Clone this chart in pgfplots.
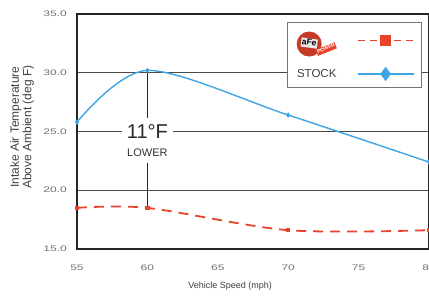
\documentclass[border=0pt]{standalone}
\usepackage{pgfplots}
\pgfplotsset{compat=1.18}
\usepackage{fontspec}
\setmainfont{Liberation Sans}
\newfontfamily\tickfont[FakeStretch=1.5]{Liberation Sans}
\definecolor{stockblue}{HTML}{3FA4E6}
\definecolor{afered}{HTML}{E8442C}
\definecolor{gridc}{HTML}{4A4A4A}
\definecolor{tickc}{HTML}{707070}
\newcommand{\afelogo}{\tikz[baseline=-0.6ex]{%
  \fill[afered!85!black] (0,0) circle (12.5pt);
  \node[anchor=center, rotate=22, fill=afered, text=white, inner sep=0.7pt, font=\bfseries\fontsize{5}{5}\selectfont] at (17pt,-5pt) {POWER};
  \node[anchor=center, rotate=-8, fill=white!92!black, text=black, inner sep=0.8pt, font=\bfseries\fontsize{8.5}{8.5}\selectfont] at (0pt,1pt) {aFe};}}
\begin{document}
\begin{tikzpicture}
\begin{axis}[
  scale only axis, width=352pt, height=235pt,
  xmin=55, xmax=80, ymin=15, ymax=35,
  xtick={55,60,65,70,75,80}, ytick={15,20,25,30,35},
  ymajorgrids, grid style={gridc, line width=0.9pt},
  axis line style={black!85, line width=1.4pt},
  major tick length=0pt,
  /pgf/number format/assume math mode=true,
  tick label style={font=\tickfont\fontsize{8}{8}\selectfont, text=tickc},
  yticklabel style={/pgf/number format/fixed, /pgf/number format/fixed zerofill, /pgf/number format/precision=1, inner sep=0pt, anchor=east, xshift=-10pt},
  xticklabel style={inner sep=0pt, anchor=center, yshift=-19pt},
  xlabel={Vehicle Speed (mph)},
  xlabel style={at={([yshift=-37pt]rel axis cs:0.435,0)}, anchor=center, font=\fontsize{9}{9}\selectfont, text=black!75},
  ylabel={Intake Air Temperature\\Above Ambient (deg F)},
  ylabel style={align=center, at={([xshift=-55pt]rel axis cs:0,0.519)}, anchor=center, font=\fontsize{12}{12.5}\selectfont, text=black!75},
  legend style={at={(rel axis cs:0.597,0.966)}, anchor=north west, draw=black!55, line width=1.1pt, fill=white,
    inner xsep=7pt, inner ysep=7pt, row sep=16pt, column sep=18pt, font=\fontsize{11.5}{11.5}\selectfont, text=black!75},
  legend cell align=left, legend plot pos=right,
]
\addplot[afered, line width=1.8pt, dash pattern=on 10pt off 7pt, smooth, mark=square*, mark size=1.3pt, mark options={solid},
  legend image code/.code={\draw[mark size=4.5pt, line width=1.6pt, dash pattern=on 7pt off 5pt, mark repeat=2, mark phase=2] plot coordinates {(0pt,0pt) (28pt,0pt) (56pt,0pt)};}]
  coordinates {(55,18.5) (60,18.5) (70,16.6) (80,16.6)};
\addlegendentry{\afelogo}
\addplot[stockblue, line width=1.4pt, smooth, mark=diamond*, mark size=1.6pt,
  legend image code/.code={\draw[mark size=6pt, line width=1.4pt, mark repeat=2, mark phase=2] plot coordinates {(0pt,0pt) (28pt,0pt) (56pt,0pt)};}]
  coordinates {(55,25.8) (60,30.2) (70,26.4) (80,22.4)};
\addlegendentry{STOCK}
\draw[black!85, line width=1.4pt] (axis cs:60,30.2) -- (axis cs:60,26.15);
\draw[black!85, line width=1.4pt] (axis cs:60,22.3) -- (axis cs:60,18.5);
\node[fill=white, inner xsep=5pt, inner ysep=0pt, font=\fontsize{20}{20}\selectfont, text=black!85] at (axis cs:60,24.96) {11°F};
\node[font=\fontsize{11}{11}\selectfont, text=black!80] at (axis cs:60,23.2) {LOWER};
\coordinate (bl) at (rel axis cs:0,0);
\end{axis}
\pgfresetboundingbox
\path ([shift={(-77pt,-47pt)}]bl) rectangle ([shift={(352pt,249pt)}]bl);
\end{tikzpicture}
\end{document}
